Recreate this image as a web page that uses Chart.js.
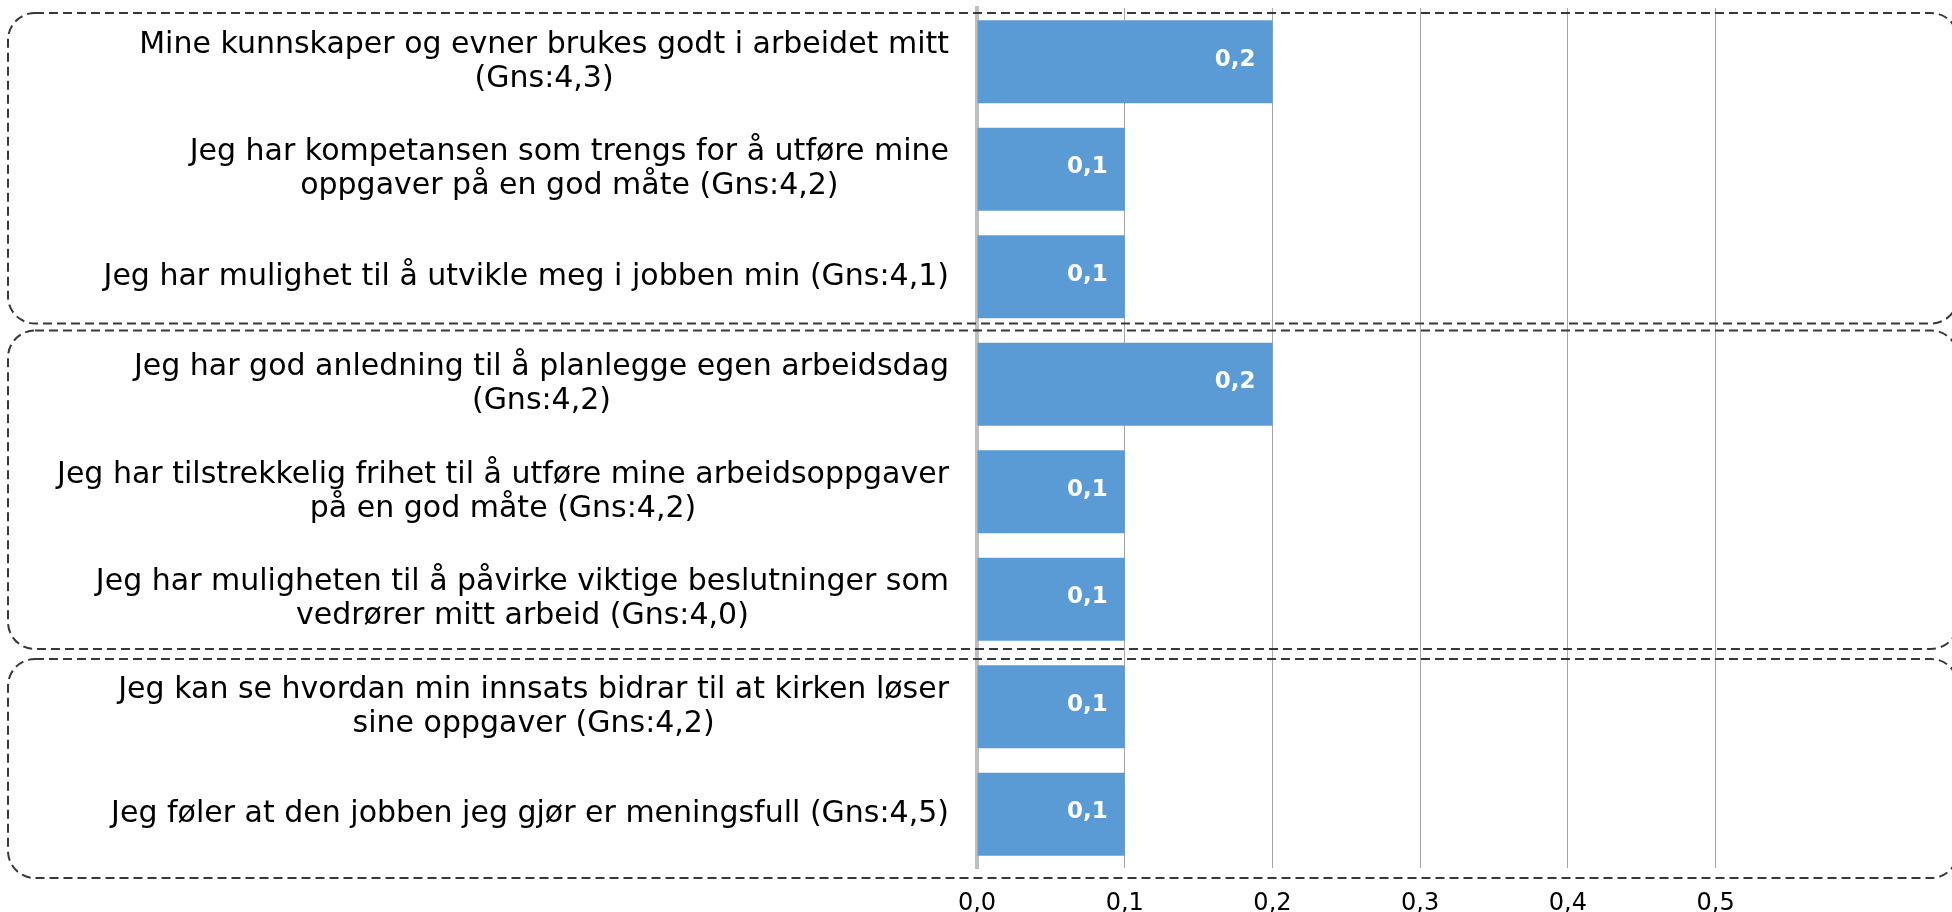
<!DOCTYPE html>
<html><head><meta charset="utf-8">
<script src="https://cdn.jsdelivr.net/npm/chart.js@4"></script>
<style>html,body{margin:0;padding:0;background:#fff;overflow:hidden}</style>
</head><body>
<canvas id="c" width="1952" height="912"></canvas>
<script>
const categories = [
  ["Mine kunnskaper og evner brukes godt i arbeidet mitt", "(Gns:4,3)"],
  ["Jeg har kompetansen som trengs for å utføre mine", "oppgaver på en god måte (Gns:4,2)"],
  ["Jeg har mulighet til å utvikle meg i jobben min (Gns:4,1)"],
  ["Jeg har god anledning til å planlegge egen arbeidsdag", "(Gns:4,2)"],
  ["Jeg har tilstrekkelig frihet til å utføre mine arbeidsoppgaver", "på en god måte (Gns:4,2)"],
  ["Jeg har muligheten til å påvirke viktige beslutninger som", "vedrører mitt arbeid (Gns:4,0)"],
  ["Jeg kan se hvordan min innsats bidrar til at kirken løser", "sine oppgaver (Gns:4,2)"],
  ["Jeg føler at den jobben jeg gjør er meningsfull (Gns:4,5)"]
];
const values = [0.2, 0.1, 0.1, 0.2, 0.1, 0.1, 0.1, 0.1];
const tickValues = [0, 0.1, 0.2, 0.3, 0.4, 0.5];
const groupStart = [0, 3, 6];
const groupEnd = [2, 5, 7];

const fmt = v => v.toFixed(1).replace('.', ',');
const FONT = '"DejaVu Sans", Verdana, sans-serif';

const decorPlugin = {
  id: 'decor',
  afterDatasetsDraw(chart) {
    const ctx = chart.ctx;
    const meta = chart.getDatasetMeta(0);
    ctx.save();
    ctx.font = 'bold 23px ' + FONT;
    ctx.fillStyle = '#ffffff';
    ctx.textAlign = 'right';
    ctx.textBaseline = 'middle';
    meta.data.forEach((bar, i) => {
      ctx.fillText(fmt(values[i]), bar.x - 17, bar.y - 2);
    });
    ctx.restore();
  },
  afterDraw(chart, args, opts) {
    const ctx = chart.ctx;
    const ys = chart.scales.y;
    // category labels (block right-aligned, lines centred)
    ctx.save();
    ctx.font = '30px ' + FONT;
    ctx.fillStyle = '#000000';
    ctx.textAlign = 'center';
    ctx.textBaseline = 'middle';
    const lh = 34;
    categories.forEach((lines, i) => {
      const yc = ys.getPixelForTick(i);
      const w = Math.max(...lines.map(l => ctx.measureText(l).width));
      const cx = ys.right - 28 - w / 2;
      lines.forEach((l, j) => {
        ctx.fillText(l, cx, yc + (j - (lines.length - 1) / 2) * lh);
      });
    });
    ctx.restore();
    // dashed rounded group boxes
    ctx.save();
    ctx.strokeStyle = '#383838';
    ctx.lineWidth = 2;
    ctx.setLineDash([9, 5]);
    const half = (ys.getPixelForValue(1) - ys.getPixelForValue(0)) / 2;
    groupStart.forEach((s, g) => {
      const top = ys.getPixelForValue(s) - half + opts.topOff[g];
      const bot = ys.getPixelForValue(groupEnd[g]) + half + opts.botOff[g];
      ctx.beginPath();
      ctx.roundRect(8, top, 1950, bot - top, 27);
      ctx.stroke();
    });
    ctx.restore();
  }
};

new Chart(document.getElementById('c'), {
  type: 'bar',
  data: {
    labels: categories,
    datasets: [{
      data: values,
      backgroundColor: '#5B9BD5',
      borderWidth: 0,
      barPercentage: 0.772,
      categoryPercentage: 1
    }]
  },
  plugins: [decorPlugin],
  options: {
    indexAxis: 'y',
    responsive: false,
    devicePixelRatio: 1,
    animation: false,
    layout: { padding: { top: 8, left: 0, right: 0, bottom: 0 } },
    plugins: {
      legend: { display: false },
      tooltip: { enabled: false },
      decor: { topOff: [5, 0, 6], botOff: [-7, -4, 10] }
    },
    scales: {
      y: {
        type: 'category',
        grid: { display: false },
        ticks: { display: false },
        border: { display: true, color: '#BFBFBF', width: 4 },
        afterFit(s) { s.width = 977; }
      },
      x: {
        type: 'linear',
        min: 0,
        max: 0.66,
        afterBuildTicks(s) { s.ticks = tickValues.map(v => ({ value: v })); },
        afterFit(s) { s.height = 44; },
        grid: {
          drawTicks: false,
          lineWidth: 1,
          color: c => (c.tick && c.tick.value === 0) ? 'rgba(0,0,0,0)' : '#A6A6A6'
        },
        border: { display: false },
        ticks: {
          padding: 21,
          color: '#000000',
          font: { family: FONT, size: 24 },
          callback: v => fmt(v)
        }
      }
    }
  }
});
</script>
</body></html>
